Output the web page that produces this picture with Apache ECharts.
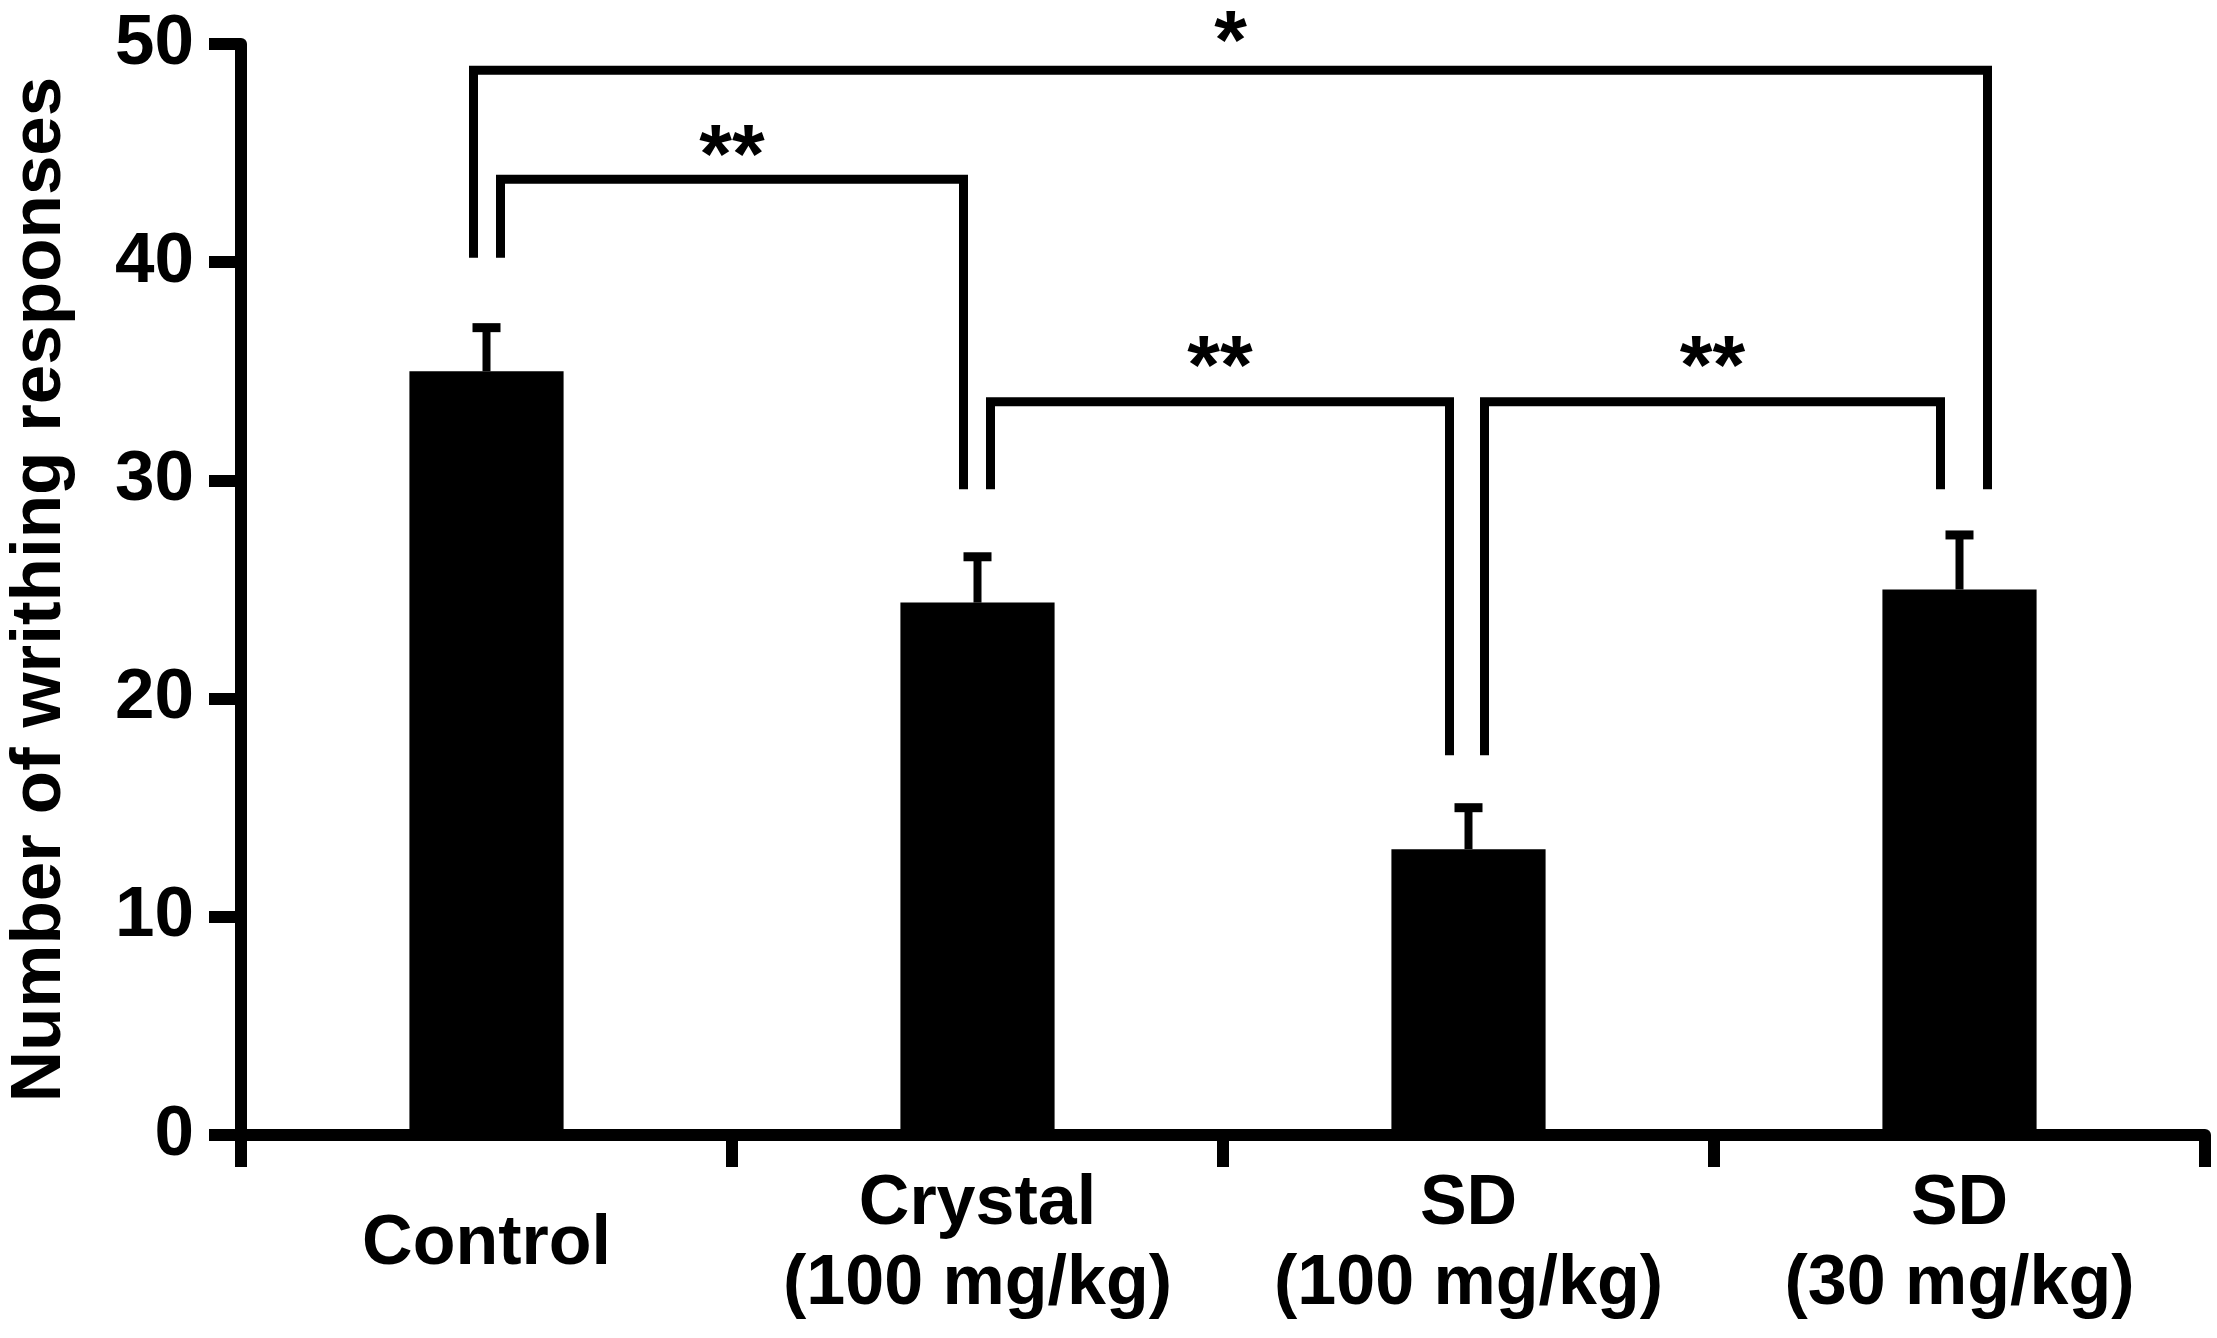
<!DOCTYPE html>
<html lang="en">
<head>
    <meta charset="UTF-8">
    <title>Writhing responses</title>
    <script type="text/javascript" src="https://cdn.jsdelivr.net/npm/echarts@6/dist/echarts.min.js"></script>
    <style>
        html, body { margin: 0; padding: 0; background: #fff; }
        #chart { width: 2217px; height: 1338px; }
    </style>
</head>
<body>
<div id="chart"></div>
<script type="text/javascript">
    // groups and values
    var categories = ['Control', 'Crystal\n(100 mg/kg)', 'SD\n(100 mg/kg)', 'SD\n(30 mg/kg)'];
    var means = [35.0, 24.4, 13.1, 25.0];
    var errors = [2.0, 2.1, 1.9, 2.5];

    // significance brackets: from group, to group, bracket height, leg ends, label
    var bracketFrom = [0, 0, 1, 2];
    var bracketTo = [3, 1, 2, 3];
    var bracketTop = [48.8, 43.8, 33.6, 33.6];
    var bracketLeftEnd = [40.2, 40.2, 29.6, 17.4];
    var bracketRightEnd = [29.6, 29.6, 17.4, 29.6];
    var bracketLabel = ['*', '**', '**', '**'];
    var bracketLabelLevel = [49.9, 44.7, 35.0, 35.0];

    // leg offsets from the group centre, px (layout only)
    var legOffset = [[-13, 28], [14, -14], [13, -19], [16, -19]];

    var FONT = "'Liberation Sans', Arial, sans-serif";

    var errData = means.map(function (m, i) { return [i, m, m + errors[i]]; });
    var bracketData = bracketFrom.map(function (f, i) {
        return [f, bracketTo[i], bracketTop[i], bracketLeftEnd[i], bracketRightEnd[i], bracketLabelLevel[i], i];
    });

    var chart = echarts.init(document.getElementById('chart'));

    var option = {
        backgroundColor: '#fff',
        animation: false,
        grid: {
            left: 241,
            right: 12,
            top: 44,
            bottom: 203,
            containLabel: false,
            outerBoundsMode: 'none'
        },
        xAxis: {
            type: 'category',
            data: categories,
            axisLine: { show: true, lineStyle: { color: '#000', width: 12 } },
            axisTick: { show: true, length: 32, lineStyle: { color: '#000', width: 12 } },
            axisLabel: {
                interval: 0,
                color: '#000',
                fontFamily: FONT,
                fontWeight: 'bold',
                fontSize: 70,
                lineHeight: 80,
                margin: 110,
                verticalAlign: 'middle'
            },
            splitLine: { show: false }
        },
        yAxis: {
            type: 'value',
            min: 0,
            max: 50,
            interval: 10,
            name: 'Number of writhing responses',
            nameLocation: 'middle',
            nameGap: 165,
            nameMoveOverlap: false,
            nameTextStyle: {
                color: '#000',
                fontFamily: FONT,
                fontWeight: 'bold',
                fontSize: 71
            },
            axisLine: { show: true, lineStyle: { color: '#000', width: 12 } },
            axisTick: { show: true, length: 32, lineStyle: { color: '#000', width: 12 } },
            axisLabel: {
                color: '#000',
                fontFamily: FONT,
                fontWeight: 'bold',
                fontSize: 71,
                margin: 47
            },
            splitLine: { show: false }
        },
        series: [
            {
                type: 'bar',
                data: means,
                barWidth: '31.4%',
                itemStyle: { color: '#000' },
                z: 2
            },
            {
                // one-sided error bars
                type: 'custom',
                data: errData,
                z: 3,
                clip: false,
                renderItem: function (params, api) {
                    var i = api.value(0);
                    var base = api.coord([i, api.value(1)]);
                    var top = api.coord([i, api.value(2)]);
                    return {
                        type: 'group',
                        children: [
                            {
                                type: 'line',
                                shape: { x1: base[0], y1: base[1], x2: top[0], y2: top[1] },
                                style: { stroke: '#000', lineWidth: 8 }
                            },
                            {
                                type: 'line',
                                shape: { x1: top[0] - 14, y1: top[1], x2: top[0] + 14, y2: top[1] },
                                style: { stroke: '#000', lineWidth: 9 }
                            }
                        ]
                    };
                }
            },
            {
                // significance brackets
                type: 'custom',
                data: bracketData,
                z: 4,
                clip: false,
                renderItem: function (params, api) {
                    var k = api.value(6);
                    var a = api.coord([api.value(0), api.value(2)]);
                    var b = api.coord([api.value(1), api.value(2)]);
                    var yl = api.coord([api.value(0), api.value(3)])[1];
                    var yr = api.coord([api.value(1), api.value(4)])[1];
                    var ys = api.coord([api.value(0), api.value(5)])[1];
                    var xl = a[0] + legOffset[k][0];
                    var xr = b[0] + legOffset[k][1];
                    return {
                        type: 'group',
                        children: [
                            {
                                type: 'polyline',
                                shape: { points: [[xl, yl], [xl, a[1]], [xr, a[1]], [xr, yr]] },
                                style: { stroke: '#000', fill: null, lineWidth: 9, lineJoin: 'miter', lineCap: 'butt' }
                            },
                            {
                                type: 'text',
                                x: (xl + xr) / 2,
                                y: ys,
                                style: {
                                    text: bracketLabel[k],
                                    fill: '#000',
                                    font: 'bold 84px ' + FONT,
                                    align: 'center',
                                    verticalAlign: 'middle',
                                    textAlign: 'center',
                                    textVerticalAlign: 'middle'
                                }
                            }
                        ]
                    };
                }
            }
        ]
    };

    chart.setOption(option);
</script>
</body>
</html>
